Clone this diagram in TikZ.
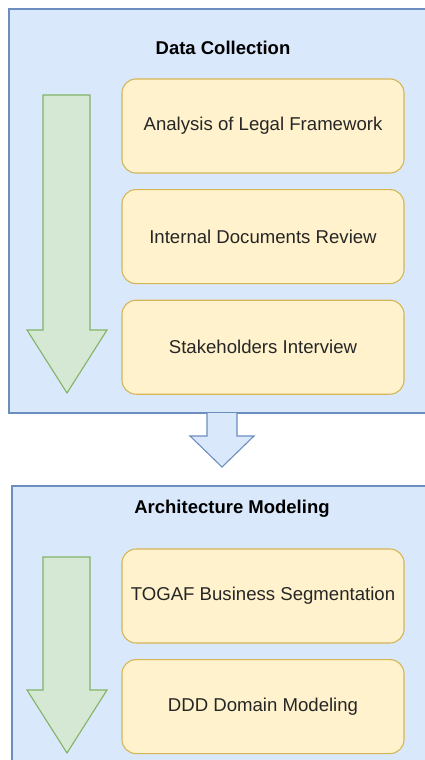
\documentclass[tikz,border=0pt]{standalone}
\usepackage{fontspec}
\setmainfont{Liberation Sans}
\usetikzlibrary{positioning}

\definecolor{stageFill}{HTML}{DAE8FC}
\definecolor{stageLine}{HTML}{6C8EBF}
\definecolor{taskFill}{HTML}{FFF2CC}
\definecolor{taskLine}{HTML}{D6B656}
\definecolor{flowFill}{HTML}{D5E8D4}
\definecolor{flowLine}{HTML}{82B366}

\tikzset{
	stage/.style={draw=stageLine,fill=stageFill,line width=1.1pt},
	task/.style={draw=taskLine,fill=taskFill,line width=1.1pt,rounded corners=14pt,
		minimum width=282pt,minimum height=94pt,inner sep=0pt,
		font=\fontsize{18.6}{22}\selectfont,text=black!85},
	title/.style={font=\fontsize{18.5}{22}\selectfont\bfseries},
	flow/.style={draw=flowLine,fill=flowFill,line width=1.1pt,line join=miter}
}

\begin{document}
\begin{tikzpicture}[x=1pt,y=-1pt]
		\useasboundingbox (0,0) rectangle (425,760);
		\clip (0,0) rectangle (425,760);
		% first stage
		\draw[stage] (9,9) rectangle (440,413);
		\node[title] (dc) at (223,48) {Data Collection};
		\node[task] (legal) at (263,126) {Analysis of Legal Framework};
		\node[task,below=15.5pt of legal] (docs) {Internal Documents Review};
		\node[task,below=15.5pt of docs] (inter) {Stakeholders Interview};
		\draw[flow] (43,95) -- (90,95) -- (90,330) -- (107,330) -- (67,393)
			-- (27,330) -- (43,330) -- cycle;
		% step to the next stage
		\draw[stage,fill=stageFill,line join=miter] (207,413) -- (207,436) -- (190,436) -- (222,467)
			-- (254,436) -- (237,436) -- (237,413);
		% second stage
		\draw[stage] (12,486) rectangle (440,790);
		\node[title] (am) at (232,509) {Architecture Modeling};
		\node[task] (togaf) at (263,596) {TOGAF Business Segmentation};
		\node[task,below=15.5pt of togaf] (ddd) {DDD Domain Modeling};
		\draw[flow] (43,557) -- (90,557) -- (90,690) -- (107,690) -- (67,753)
			-- (27,690) -- (43,690) -- cycle;
	\end{tikzpicture}
\end{document}
